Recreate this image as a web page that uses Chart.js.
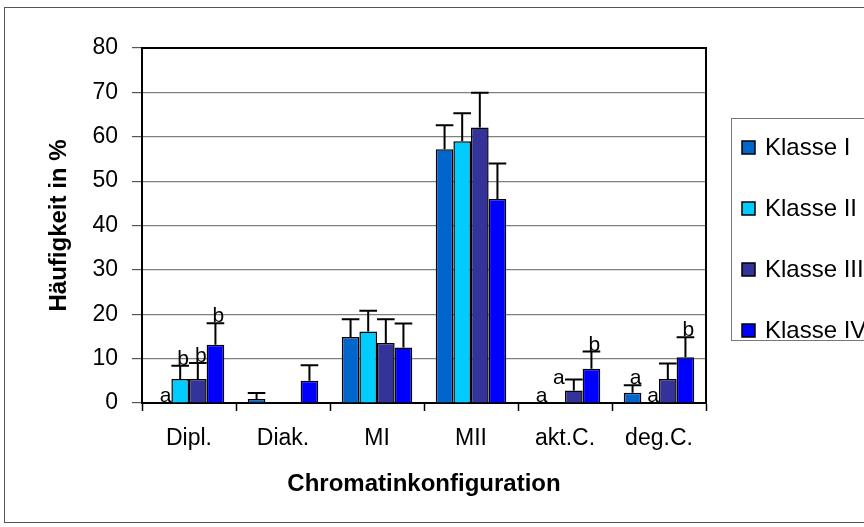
<!DOCTYPE html>
<html>
<head>
<meta charset="utf-8">
<script src="https://cdn.jsdelivr.net/npm/chart.js@4/dist/chart.umd.min.js"></script>
<style>
  html, body { margin: 0; padding: 0; background: #fff; }
  #wrap { width: 864px; height: 527px; }
</style>
</head>
<body>
<div id="wrap"><canvas id="graph" width="864" height="527"></canvas></div>
<script>
const categories = ['Dipl.', 'Diak.', 'MI', 'MII', 'akt.C.', 'deg.C.']
const yTicks = [0, 10, 20, 30, 40, 50, 60, 70, 80]

const klasseI = [0, 0.9, 14.9, 57.2, 0, 2.3]
const klasseII = [5.4, 0, 16.1, 59.0, 0, 0]
const klasseIII = [5.4, 0, 13.5, 62.1, 2.8, 5.4]
const klasseIV = [13.1, 5.0, 12.5, 46.0, 7.7, 10.3]

// standard deviation (upper whisker only)
const errI = [0, 1.35, 4.0, 5.4, 0, 1.7]
const errII = [3.0, 0, 4.7, 6.3, 0, 0]
const errIII = [3.6, 0, 5.4, 7.8, 2.5, 3.5]
const errIV = [4.9, 3.5, 5.4, 8.0, 3.9, 4.5]

// significance letters
const letI = ['a', '', '', '', 'a', 'a']
const letII = ['b', '', '', '', '', 'a']
const letIII = ['b', '', '', '', 'a', '']
const letIV = ['b', '', '', '', 'b', 'b']

const FONT = "'Liberation Sans', Arial, sans-serif"

function makeSet(label, data, err, letters, color) {
    return {
        label: label,
        data: data,
        err: err,
        letters: letters,
        backgroundColor: color,
        borderColor: '#000',
        borderWidth: 1.5,
        borderSkipped: 'bottom',
        categoryPercentage: 0.75,
        barPercentage: 1.0
    }
}

const extras = {
    id: 'extras',
    beforeDraw(chart) {
        const ctx = chart.ctx
        ctx.save()
        ctx.fillStyle = '#fff'
        ctx.fillRect(0, 0, chart.width, chart.height)
        ctx.restore()
    },
    afterDatasetsDraw(chart) {
        const ctx = chart.ctx
        const y = chart.scales.y
        ctx.save()
        chart.data.datasets.forEach((ds, di) => {
            const meta = chart.getDatasetMeta(di)
            meta.data.forEach((bar, i) => {
                const v = ds.data[i]
                const e = ds.err[i]
                let top = y.getPixelForValue(v)
                if (e > 0) {
                    const yt = y.getPixelForValue(v + e)
                    const half = bar.width / 2
                    ctx.strokeStyle = '#000'
                    ctx.lineWidth = 2
                    ctx.beginPath()
                    ctx.moveTo(bar.x, top)
                    ctx.lineTo(bar.x, yt)
                    ctx.moveTo(bar.x - half, yt)
                    ctx.lineTo(bar.x + half, yt)
                    ctx.stroke()
                    top = yt
                }
                const t = ds.letters[i]
                if (t) {
                    let dx = 3, dy = -1
                    if (di === 2 && i === 4) { dx = -15; dy = 5 }
                    ctx.fillStyle = '#000'
                    ctx.font = '21px ' + FONT
                    ctx.textAlign = 'center'
                    ctx.textBaseline = 'alphabetic'
                    ctx.fillText(t, bar.x + dx, top + dy)
                }
            })
        })
        // plot frame top and right
        const a = chart.chartArea
        ctx.strokeStyle = '#000'
        ctx.lineWidth = 2
        ctx.beginPath()
        ctx.moveTo(a.left, a.top)
        ctx.lineTo(a.right, a.top)
        ctx.lineTo(a.right, a.bottom)
        ctx.stroke()
        ctx.restore()
    },
    afterDraw(chart) {
        const ctx = chart.ctx
        ctx.save()
        // outer frame
        ctx.strokeStyle = '#555'
        ctx.lineWidth = 1
        ctx.strokeRect(4.5, 7.5, 900, 515)
        // legend
        ctx.strokeStyle = '#777'
        ctx.strokeRect(731.5, 118.5, 200, 222)
        ctx.font = '24px ' + FONT
        ctx.textAlign = 'left'
        ctx.textBaseline = 'middle'
        chart.data.datasets.forEach((ds, i) => {
            const cy = 147 + i * 61
            ctx.fillStyle = ds.backgroundColor
            ctx.fillRect(742, cy - 6, 13, 13)
            ctx.strokeStyle = '#000'
            ctx.lineWidth = 1.5
            ctx.strokeRect(742, cy - 6, 13, 13)
            ctx.fillStyle = '#000'
            ctx.fillText(ds.label, 765, cy + 1)
        })
        ctx.restore()
    }
}

new Chart(document.getElementById('graph').getContext('2d'), {
    type: 'bar',
    data: {
        labels: categories,
        datasets: [
            makeSet('Klasse I', klasseI, errI, letI, '#0066CC'),
            makeSet('Klasse II', klasseII, errII, letII, '#00CCFF'),
            makeSet('Klasse III', klasseIII, errIII, letIII, '#333399'),
            makeSet('Klasse IV', klasseIV, errIV, letIV, '#0000FF')
        ]
    },
    options: {
        responsive: false,
        animation: false,
        layout: { padding: { left: 0, right: 158, top: 48, bottom: 0 } },
        plugins: {
            legend: { display: false },
            tooltip: { enabled: false }
        },
        scales: {
            x: {
                offset: true,
                afterFit(scale) { scale.height = 124 },
                grid: {
                    offset: true,
                    drawOnChartArea: false,
                    tickLength: 8,
                    tickColor: '#000',
                    tickWidth: 1.5
                },
                border: { color: '#000', width: 2 },
                ticks: {
                    color: '#000',
                    padding: 14,
                    font: { family: FONT, size: 23 }
                },
                title: {
                    display: true,
                    text: 'Chromatinkonfiguration',
                    color: '#000',
                    font: { family: FONT, size: 24, weight: 'bold' },
                    padding: { top: 0, bottom: 28 }
                }
            },
            y: {
                min: 0,
                max: 80,
                afterFit(scale) { scale.width = 142 },
                afterBuildTicks(scale) { scale.ticks = yTicks.map(v => ({ value: v })) },
                grid: {
                    color: '#808080',
                    lineWidth: 1.2,
                    tickLength: 10,
                    tickColor: '#555'
                },
                border: { color: '#000', width: 2 },
                ticks: {
                    color: '#000',
                    padding: 14,
                    font: { family: FONT, size: 23 }
                },
                title: {
                    display: true,
                    text: 'Häufigkeit in %',
                    color: '#000',
                    font: { family: FONT, size: 24, weight: 'bold' },
                    padding: { top: 45, bottom: 0 }
                }
            }
        }
    },
    plugins: [extras]
})
</script>
</body>
</html>
